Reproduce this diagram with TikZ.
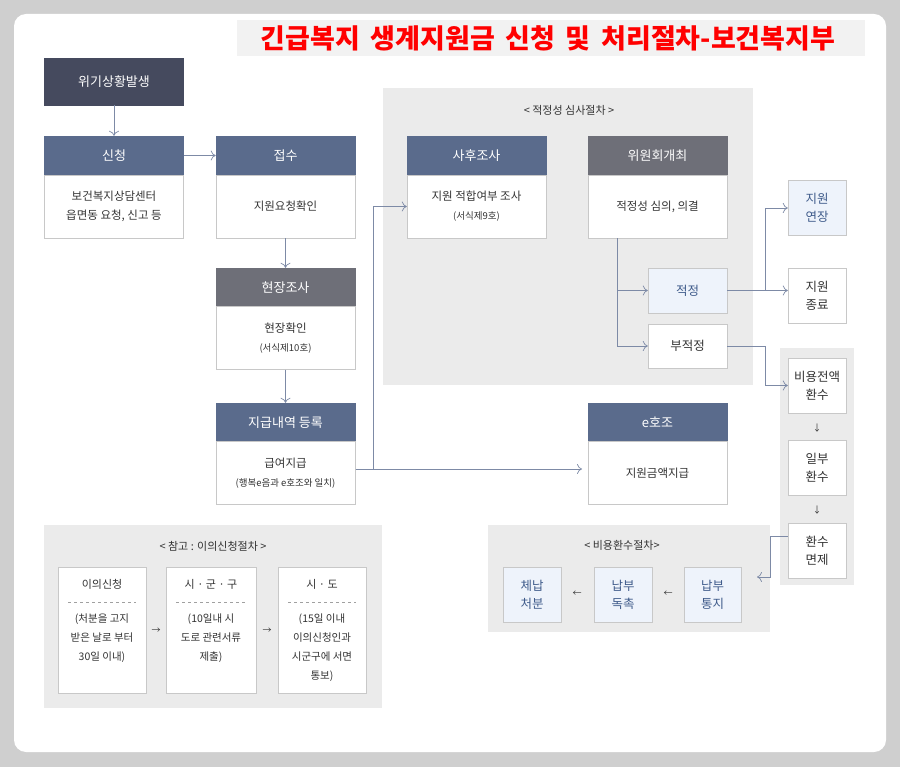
\documentclass[tikz,border=0pt]{standalone}
\usepackage{fontspec}
\setmainfont{Noto Sans CJK KR}
\usetikzlibrary{arrows.meta}
\definecolor{hdr}{HTML}{5A6B8C}
\definecolor{hdrgray}{HTML}{6E6F78}
\definecolor{hdrdark}{HTML}{454A5E}
\definecolor{panel}{HTML}{EBEBEB}
\definecolor{lblue}{HTML}{EEF3FB}
\definecolor{ln}{HTML}{7D8AA6}
\definecolor{bord}{HTML}{C8C8C8}
\definecolor{tx}{HTML}{333333}
\definecolor{btx}{HTML}{3E5A8A}
\begin{document}
\begin{tikzpicture}[x=1pt,y=-1pt,
  hd/.style={fill=hdr,draw=hdr,text=white,font=\fontsize{13}{15}\selectfont,minimum width=139pt,minimum height=39pt,inner sep=0pt},
  bd/.style={fill=white,draw=bord,text=tx,font=\fontsize{11.5}{19}\selectfont,minimum width=139pt,minimum height=63pt,align=center,inner sep=0pt},
  sm/.style={fill=white,draw=bord,text=tx,font=\fontsize{12.5}{18}\selectfont,minimum width=58pt,minimum height=55pt,align=center,inner sep=0pt},
  lb/.style={fill=lblue,text=btx},
  lbl/.style={font=\fontsize{11}{13}\selectfont,text=tx},
  ar/.style={draw=ln,line width=0.7pt,-{To[length=5pt,width=10pt]}},
  ln/.style={draw=ln,line width=0.7pt}]
\useasboundingbox (0,0) rectangle (900,767);
\fill[black!19] (0,0) rectangle (900,767);
\fill[white,rounded corners=12pt] (14,14) rectangle (886,752);
\fill[black!5] (237,20) rectangle (865,56);
\node[text=red,font=\bfseries\fontsize{27}{29}\selectfont] (title) at (548,38) {긴급복지\, 생계지원금\, 신청\, 및\, 처리절차-보건복지부};
% panels
\fill[panel] (383,88) rectangle (753,385);
\node[lbl] (p1) at (569,110) {< 적정성 심사절차 >};
\fill[panel] (780,348) rectangle (854,585);
\fill[panel] (44,525) rectangle (382,708);
\node[lbl] (p2) at (213,546) {< 참고 : 이의신청절차 >};
\fill[panel] (488,525) rectangle (770,632);
\node[lbl] (p3) at (622,545) {< 비용환수절차>};
% top boxes
\node[hd,fill=hdrdark,draw=hdrdark,minimum height=47pt] (crisis) at (114,81.5) {위기상황발생};
\node[hd] (h1) at (114,155.5) {신청};
\node[bd] (b1) at (114,206.5) {보건복지상담센터\\읍면동 요청, 신고 등};
\node[hd] (h2) at (285.5,155.5) {접수};
\node[bd] (b2) at (285.5,206.5) {지원요청확인};
\node[hd,fill=hdrgray,draw=hdrgray] (h3) at (285.5,287.5) {현장조사};
\node[bd] (b3) at (285.5,338) {현장확인\\{\fontsize{9.5}{12}\selectfont (서식제10호)}};
\node[hd] (h4) at (285.5,422.5) {지급내역 등록};
\node[bd] (b4) at (285.5,473) {급여지급\\{\fontsize{9.5}{12}\selectfont (행복e음과 e호조와 일치)}};
\node[hd] (h5) at (476.5,155.5) {사후조사};
\node[bd] (b5) at (476.5,206.5) {지원 적합여부 조사\\{\fontsize{9.5}{12}\selectfont (서식제9호)}};
\node[hd,fill=hdrgray,draw=hdrgray] (h6) at (657.5,155.5) {위원회개최};
\node[bd] (b6) at (657.5,206.5) {적정성 심의, 의결};
\node[hd] (h7) at (657.5,422.5) {e호조};
\node[bd] (b7) at (657.5,473) {지원금액지급};
\node[sm,lb,minimum width=79pt,minimum height=45pt] (ok) at (687.5,290.5) {적정};
\node[sm,minimum width=79pt,minimum height=44pt] (nok) at (687.5,346) {부적정};
\node[sm,lb] (ext) at (817,208) {지원\\연장};
\node[sm] (end) at (817,295.5) {지원\\종료};
\node[sm] (r1) at (817,385.5) {비용전액\\환수};
\node[sm] (r2) at (817,467.5) {일부\\환수};
\node[sm] (r3) at (817,550.5) {환수\\면제};
\node[text=tx,font=\small] (d1) at (817,428) {↓};
\node[text=tx,font=\small] (d2) at (817,510) {↓};
% recovery procedure
\node[sm,lb] (c1) at (532,594.5) {체납\\처분};
\node[sm,lb] (c2) at (623,594.5) {납부\\독촉};
\node[sm,lb,minimum width=57pt] (c3) at (712.5,594.5) {납부\\통지};
\node[text=tx,font=\small] (l1) at (577,594) {←};
\node[text=tx,font=\small] (l2) at (668,594) {←};
% objection
\foreach \n/\x/\w/\t/\b in {o1/102/88/이의신청/{(처분을 고지\\받은 날로 부터\\30일 이내)},o2/211/90/시 · 군 · 구/{(10일내 시\\도로 관련서류\\제출)},o3/322/88/시 · 도/{(15일 이내\\이의신청인과\\시군구에 서면\\통보)}}{
  \node[fill=white,draw=bord,minimum width=\w pt,minimum height=126pt,inner sep=0pt] (\n) at (\x,630) {};
  \node[text=tx,font=\fontsize{11}{13}\selectfont] (\n t) at (\x,584) {\t};
  \draw[bord!80!black,dashed] (\x-\w/2+10,602) -- (\x+\w/2-10,602);
  \node[text=tx,font=\fontsize{10.5}{19}\selectfont,align=center,anchor=north] (\n b) at (\x,610) {\b};
}
\node[text=tx,font=\small] (a1) at (156,631) {→};
\node[text=tx,font=\small] (a2) at (267,631) {→};
% connectors
\coordinate (b4o) at (355.5,469);
\draw[ar] (crisis) -- (h1);
\draw[ar] (h1.east) -- ++(32,0);
\draw[ar] (b2) -- (h3);
\draw[ar] (b3) -- (h4);
\draw[ar] (b4o) -- (582,469);
\draw[ar] (b4o) -- (373,469) |- (b5.west);
\draw[ln] (b6.south -| 617,0) -- (617,346);
\draw[ar] (617,290.5) -- (ok.west);
\draw[ar] (617,346) -- (nok.west);
\draw[ar] (ok.east) -- (end.west |- ok.east);
\draw[ar] (765,290.5) |- (ext.west);
\draw[ar] (nok.east) -- (765,346) |- (r1.west);
\draw[ar] (r3.west |- 0,536) -- (770,536) |- (757,577);
\end{tikzpicture}
\end{document}
